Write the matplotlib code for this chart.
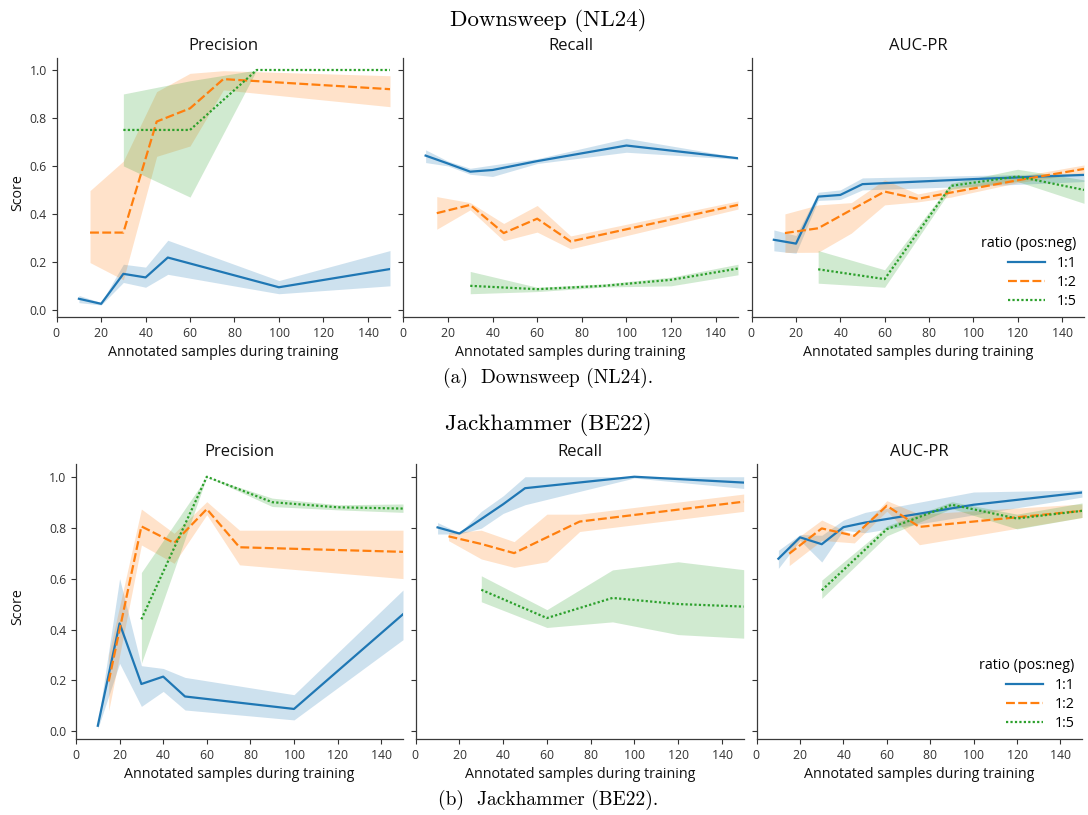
import matplotlib
matplotlib.use("Agg")
import matplotlib.pyplot as plt

# ---------------- data ----------------
ratios = ["1:1", "1:2", "1:5"]
metrics = ["Precision", "Recall", "AUC-PR"]
xticks = [0, 20, 40, 60, 80, 100, 120, 140]
yticks = [0.0, 0.2, 0.4, 0.6, 0.8, 1.0]

# Downsweep (NL24) - Precision
ds_prec_11_x = [10, 20, 30, 40, 50, 100, 150]
ds_prec_11_y = [0.046, 0.025, 0.15, 0.135, 0.218, 0.094, 0.17]
ds_prec_11_lo = [0.03, 0.02, 0.114, 0.094, 0.148, 0.067, 0.10]
ds_prec_11_hi = [0.06, 0.03, 0.19, 0.178, 0.29, 0.122, 0.247]
ds_prec_12_x = [15, 30, 45, 60, 75, 150]
ds_prec_12_y = [0.322, 0.322, 0.785, 0.84, 0.962, 0.92]
ds_prec_12_lo = [0.197, 0.125, 0.64, 0.683, 0.917, 0.847]
ds_prec_12_hi = [0.497, 0.62, 0.91, 0.986, 0.997, 0.976]
ds_prec_15_x = [30, 60, 90, 120, 150]
ds_prec_15_y = [0.75, 0.75, 1.0, 1.0, 1.0]
ds_prec_15_lo = [0.6, 0.47, 1.0, 1.0, 1.0]
ds_prec_15_hi = [0.9, 0.955, 1.0, 1.0, 1.0]

# Downsweep (NL24) - Recall
ds_rec_11_x = [10, 20, 30, 40, 60, 100, 150]
ds_rec_11_y = [0.643, 0.61, 0.576, 0.583, 0.62, 0.685, 0.632]
ds_rec_11_lo = [0.614, 0.60, 0.565, 0.556, 0.61, 0.657, 0.628]
ds_rec_11_hi = [0.667, 0.62, 0.59, 0.604, 0.63, 0.715, 0.636]
ds_rec_12_x = [15, 30, 45, 60, 75, 150]
ds_rec_12_y = [0.403, 0.4375, 0.32, 0.38, 0.285, 0.4375]
ds_rec_12_lo = [0.336, 0.417, 0.288, 0.324, 0.254, 0.42]
ds_rec_12_hi = [0.472, 0.447, 0.36, 0.435, 0.308, 0.454]
ds_rec_15_x = [30, 60, 90, 120, 150]
ds_rec_15_y = [0.10, 0.086, 0.10, 0.125, 0.172]
ds_rec_15_lo = [0.067, 0.076, 0.095, 0.10, 0.146]
ds_rec_15_hi = [0.16, 0.094, 0.108, 0.136, 0.19]

# Downsweep (NL24) - AUC-PR
ds_auc_11_x = [10, 20, 30, 40, 50, 100, 150]
ds_auc_11_y = [0.292, 0.276, 0.472, 0.479, 0.524, 0.545, 0.5625]
ds_auc_11_lo = [0.246, 0.236, 0.456, 0.46, 0.50, 0.515, 0.535]
ds_auc_11_hi = [0.333, 0.31, 0.49, 0.50, 0.55, 0.56, 0.57]
ds_auc_12_x = [15, 30, 45, 60, 75, 90, 120, 150]
ds_auc_12_y = [0.32, 0.34, 0.417, 0.493, 0.4625, 0.489, 0.54, 0.5875]
ds_auc_12_lo = [0.239, 0.24, 0.32, 0.4375, 0.45, 0.47, 0.53, 0.57]
ds_auc_12_hi = [0.40, 0.4375, 0.447, 0.542, 0.483, 0.51, 0.555, 0.604]
ds_auc_15_x = [30, 60, 90, 120, 150]
ds_auc_15_y = [0.169, 0.128, 0.517, 0.556, 0.50]
ds_auc_15_lo = [0.111, 0.094, 0.503, 0.535, 0.444]
ds_auc_15_hi = [0.247, 0.167, 0.528, 0.586, 0.542]

# Jackhammer (BE22) - Precision
jh_prec_11_x = [10, 20, 30, 40, 50, 100, 150]
jh_prec_11_y = [0.022, 0.424, 0.186, 0.215, 0.137, 0.088, 0.46]
jh_prec_11_lo = [0.01, 0.267, 0.098, 0.157, 0.084, 0.045, 0.36]
jh_prec_11_hi = [0.03, 0.60, 0.258, 0.247, 0.212, 0.144, 0.555]
jh_prec_12_x = [15, 30, 45, 60, 75, 150]
jh_prec_12_y = [0.196, 0.805, 0.74, 0.873, 0.723, 0.705]
jh_prec_12_lo = [0.081, 0.732, 0.66, 0.851, 0.654, 0.60]
jh_prec_12_hi = [0.30, 0.873, 0.778, 0.902, 0.79, 0.79]
jh_prec_15_x = [30, 60, 90, 120, 150]
jh_prec_15_y = [0.44, 1.0, 0.90, 0.88, 0.875]
jh_prec_15_lo = [0.267, 1.0, 0.883, 0.87, 0.86]
jh_prec_15_hi = [0.624, 1.0, 0.916, 0.89, 0.893]

# Jackhammer (BE22) - Recall
jh_rec_11_x = [10, 20, 30, 40, 50, 100, 150]
jh_rec_11_y = [0.801, 0.777, 0.834, 0.892, 0.955, 1.0, 0.977]
jh_rec_11_lo = [0.775, 0.775, 0.798, 0.856, 0.89, 0.995, 0.954]
jh_rec_11_hi = [0.82, 0.78, 0.864, 0.925, 1.0, 1.0, 1.0]
jh_rec_12_x = [15, 30, 45, 60, 75, 150]
jh_rec_12_y = [0.766, 0.736, 0.70, 0.762, 0.824, 0.902]
jh_rec_12_lo = [0.749, 0.677, 0.644, 0.666, 0.785, 0.864]
jh_rec_12_hi = [0.78, 0.79, 0.745, 0.853, 0.853, 0.932]
jh_rec_15_x = [30, 60, 90, 120, 150]
jh_rec_15_y = [0.556, 0.445, 0.524, 0.50, 0.49]
jh_rec_15_lo = [0.509, 0.408, 0.43, 0.38, 0.366]
jh_rec_15_hi = [0.611, 0.478, 0.634, 0.666, 0.635]

# Jackhammer (BE22) - AUC-PR
jh_auc_11_x = [10, 20, 30, 40, 50, 100, 150]
jh_auc_11_y = [0.678, 0.762, 0.735, 0.802, 0.82, 0.89, 0.938]
jh_auc_11_lo = [0.64, 0.75, 0.665, 0.79, 0.78, 0.85, 0.92]
jh_auc_11_hi = [0.711, 0.773, 0.77, 0.83, 0.86, 0.94, 0.948]
jh_auc_12_x = [15, 30, 45, 60, 75, 150]
jh_auc_12_y = [0.698, 0.797, 0.768, 0.886, 0.803, 0.866]
jh_auc_12_lo = [0.651, 0.75, 0.74, 0.865, 0.733, 0.84]
jh_auc_12_hi = [0.736, 0.83, 0.77, 0.906, 0.853, 0.893]
jh_auc_15_x = [30, 60, 90, 120, 150]
jh_auc_15_y = [0.554, 0.794, 0.89, 0.836, 0.866]
jh_auc_15_lo = [0.522, 0.768, 0.875, 0.795, 0.84]
jh_auc_15_hi = [0.594, 0.807, 0.902, 0.853, 0.897]

# ---------------- styling ----------------
colors = ["#1f77b4", "#ff7f0e", "#2ca02c"]
dash_styles = [(None), (4, 1.5), (1, 1)]
SANS = ["Open Sans", "DejaVu Sans"]
SERIF = ["cmr10", "DejaVu Serif"]
plt.rcParams["font.family"] = SANS
plt.rcParams["axes.formatter.use_mathtext"] = True

W, H = 1088, 815
fig = plt.figure(figsize=(W / 100, H / 100), dpi=100)


def fx(px):
    return px / W


def fy(py):
    return 1 - py / H


top_boxes = [(56.7, 390.0), (403.3, 738.0), (751.7, 1084.0)]
bot_boxes = [(76.0, 403.0), (415.7, 743.7), (756.7, 1082.0)]
rows = [
    dict(boxes=top_boxes, top=58, bottom=317,
         panels=[
             [(ds_prec_11_x, ds_prec_11_y, ds_prec_11_lo, ds_prec_11_hi),
              (ds_prec_12_x, ds_prec_12_y, ds_prec_12_lo, ds_prec_12_hi),
              (ds_prec_15_x, ds_prec_15_y, ds_prec_15_lo, ds_prec_15_hi)],
             [(ds_rec_11_x, ds_rec_11_y, ds_rec_11_lo, ds_rec_11_hi),
              (ds_rec_12_x, ds_rec_12_y, ds_rec_12_lo, ds_rec_12_hi),
              (ds_rec_15_x, ds_rec_15_y, ds_rec_15_lo, ds_rec_15_hi)],
             [(ds_auc_11_x, ds_auc_11_y, ds_auc_11_lo, ds_auc_11_hi),
              (ds_auc_12_x, ds_auc_12_y, ds_auc_12_lo, ds_auc_12_hi),
              (ds_auc_15_x, ds_auc_15_y, ds_auc_15_lo, ds_auc_15_hi)]]),
    dict(boxes=bot_boxes, top=464, bottom=739,
         panels=[
             [(jh_prec_11_x, jh_prec_11_y, jh_prec_11_lo, jh_prec_11_hi),
              (jh_prec_12_x, jh_prec_12_y, jh_prec_12_lo, jh_prec_12_hi),
              (jh_prec_15_x, jh_prec_15_y, jh_prec_15_lo, jh_prec_15_hi)],
             [(jh_rec_11_x, jh_rec_11_y, jh_rec_11_lo, jh_rec_11_hi),
              (jh_rec_12_x, jh_rec_12_y, jh_rec_12_lo, jh_rec_12_hi),
              (jh_rec_15_x, jh_rec_15_y, jh_rec_15_lo, jh_rec_15_hi)],
             [(jh_auc_11_x, jh_auc_11_y, jh_auc_11_lo, jh_auc_11_hi),
              (jh_auc_12_x, jh_auc_12_y, jh_auc_12_lo, jh_auc_12_hi),
              (jh_auc_15_x, jh_auc_15_y, jh_auc_15_lo, jh_auc_15_hi)]]),
]

spine_col = "#3a3a3a"
for row in rows:
    for j, ((l, r), series) in enumerate(zip(row["boxes"], row["panels"])):
        ax = fig.add_axes([fx(l), fy(row["bottom"]), fx(r - l),
                           (row["bottom"] - row["top"]) / H])
        for k, (xs, ys, lo, hi) in enumerate(series):
            ax.fill_between(xs, lo, hi, color=colors[k], alpha=0.22, lw=0)
            line, = ax.plot(xs, ys, color=colors[k], lw=1.6, label=ratios[k])
            if dash_styles[k] is not None:
                line.set_dashes(dash_styles[k])
        ax.set_xlim(0, 150)
        ax.set_ylim(-0.03, 1.05)
        ax.set_xticks(xticks)
        ax.set_yticks(yticks)
        ax.set_title(metrics[j], fontsize=12, pad=6, color="#111111")
        ax.set_xlabel("Annotated samples during training", fontsize=10.3,
                      color="#111111", labelpad=4)
        ax.tick_params(axis="both", labelsize=8.8, colors="#333333",
                       length=3.5, width=0.8)
        if j == 0:
            ax.set_ylabel("Score", fontsize=10.3, color="#111111")
            ax.yaxis.set_label_coords(-(l - 25) / (r - l), 0.48)
            ax.set_yticklabels([f"{t:.1f}" for t in yticks])
        else:
            ax.set_yticklabels([])
        for s in ["top", "right"]:
            ax.spines[s].set_visible(False)
        for s in ["left", "bottom"]:
            ax.spines[s].set_color(spine_col)
            ax.spines[s].set_linewidth(0.9)
        if j == 2:
            leg = ax.legend(title="ratio (pos:neg)", loc="lower right",
                            frameon=False, fontsize=10.3, title_fontsize=10.3,
                            handlelength=2.6, borderaxespad=0.15,
                            labelspacing=0.3)
            leg._legend_box.align = "right"

fig.text(0.504, fy(20), "Downsweep (NL24)", family=SERIF, fontsize=16.5,
         ha="center", va="center")
fig.text(0.504, fy(378), "(a)  Downsweep (NL24).", family=SERIF, fontsize=14,
         ha="center", va="center")
fig.text(0.504, fy(424), "Jackhammer (BE22)", family=SERIF, fontsize=16.5,
         ha="center", va="center")
fig.text(0.504, fy(800), "(b)  Jackhammer (BE22).", family=SERIF, fontsize=14,
         ha="center", va="center")

fig.savefig("out.png", dpi=100)
